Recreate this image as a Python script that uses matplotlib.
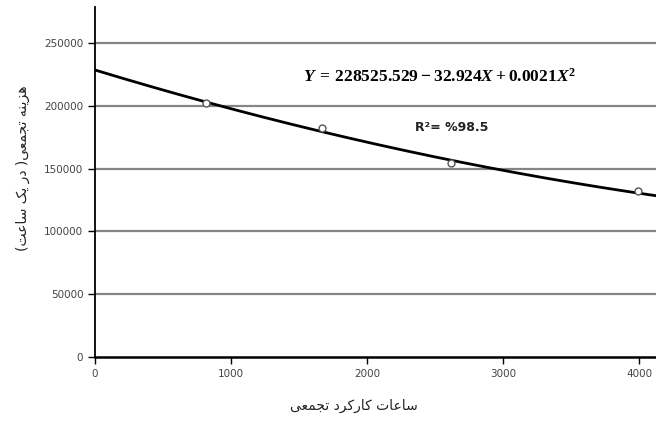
import matplotlib
matplotlib.use('Agg')
import matplotlib.pyplot as plt
import numpy as np

hours = [816, 1669, 2618, 3993]
cost = [202000, 182000, 154500, 132000]

# fitted quadratic shown on the chart
coef = [228525.529, -32.924, 0.0021]
r2_text = 'R\u00b2= %98.5'

yticks = [0, 50000, 100000, 150000, 200000, 250000]
xticks = [0, 1000, 2000, 3000, 4000]

xlabel_fa = 'ساعات کارکرد تجمعی'
ylabel_fa = 'هزینه تجمعی( در یک ساعت)'

# minimal Persian shaping (isolated, final, initial, medial)
FORMS = {
    'ا': ('\uFE8D', '\uFE8E', None, None),
    'ت': ('\uFE95', '\uFE96', '\uFE97', '\uFE98'),
    'ج': ('\uFE9D', '\uFE9E', '\uFE9F', '\uFEA0'),
    'د': ('\uFEA9', '\uFEAA', None, None),
    'ر': ('\uFEAD', '\uFEAE', None, None),
    'ز': ('\uFEAF', '\uFEB0', None, None),
    'س': ('\uFEB1', '\uFEB2', '\uFEB3', '\uFEB4'),
    'ع': ('\uFEC9', '\uFECA', '\uFECB', '\uFECC'),
    'م': ('\uFEE1', '\uFEE2', '\uFEE3', '\uFEE4'),
    'ن': ('\uFEE5', '\uFEE6', '\uFEE7', '\uFEE8'),
    'ه': ('\uFEE9', '\uFEEA', '\uFEEB', '\uFEEC'),
    'ی': ('\uFBFC', '\uFBFD', '\uFBFE', '\uFBFF'),
    'ک': ('\uFB8E', '\uFB8F', '\uFB90', '\uFB91'),
}
MIRROR = {'(': ')', ')': '('}


def shape(text):
    out = []
    for i, ch in enumerate(text):
        if ch not in FORMS:
            out.append(MIRROR.get(ch, ch))
            continue
        iso, fin, ini, med = FORMS[ch]
        prev = text[i - 1] if i > 0 else ''
        nxt = text[i + 1] if i + 1 < len(text) else ''
        jp = prev in FORMS and FORMS[prev][2] is not None
        jn = nxt in FORMS and ini is not None
        if jp and jn:
            out.append(med)
        elif jp:
            out.append(fin)
        elif jn:
            out.append(ini)
        else:
            out.append(iso)
    return ''.join(reversed(out))


plt.rcParams['mathtext.fontset'] = 'custom'
plt.rcParams['mathtext.rm'] = 'Liberation Serif:bold'
plt.rcParams['mathtext.it'] = 'Liberation Serif:italic:bold'

fig = plt.figure(figsize=(6.56, 4.21), dpi=100)
ax = fig.add_axes([0.145, 0.152, 0.855, 0.831])

xmax = 4125
ax.set_xlim(0, xmax)
ax.set_ylim(0, 278600)

for y in yticks[1:]:
    ax.axhline(y, color='#858585', lw=1.6, zorder=1)

xs = np.linspace(0, xmax, 300)
ys = coef[0] + coef[1] * xs + coef[2] * xs ** 2
ax.plot(xs, ys, color='black', lw=2, zorder=3)
ax.plot(hours, cost, 'o', mfc='white', mec='#555555', ms=5, mew=1, zorder=4)

ax.spines['top'].set_visible(False)
ax.spines['right'].set_visible(False)
ax.spines['left'].set_linewidth(1.3)
ax.spines['bottom'].set_linewidth(1.8)

ax.set_xticks(xticks)
ax.set_yticks(yticks)
ax.tick_params(axis='both', direction='out', length=5, width=1,
               labelsize=7.5, labelcolor='#444444')

ax.text(0.615, 0.80, r'$Y\:=\:228525.529\:-\:32.924X\:+\:0.0021X^2$',
        transform=ax.transAxes, ha='center', va='center', fontsize=12.5)
ax.text(0.635, 0.657, r2_text, transform=ax.transAxes, ha='center',
        va='center', fontsize=9, fontweight='bold', color='#222222')

fig.text(0.54, 0.035, shape(xlabel_fa), ha='center', va='center',
         fontsize=10, family='DejaVu Sans', color='#222222')
fig.text(0.035, 0.60, shape(ylabel_fa), ha='center', va='center',
         rotation=90, fontsize=10, family='DejaVu Sans', color='#222222')

fig.savefig('out.png', dpi=100)
